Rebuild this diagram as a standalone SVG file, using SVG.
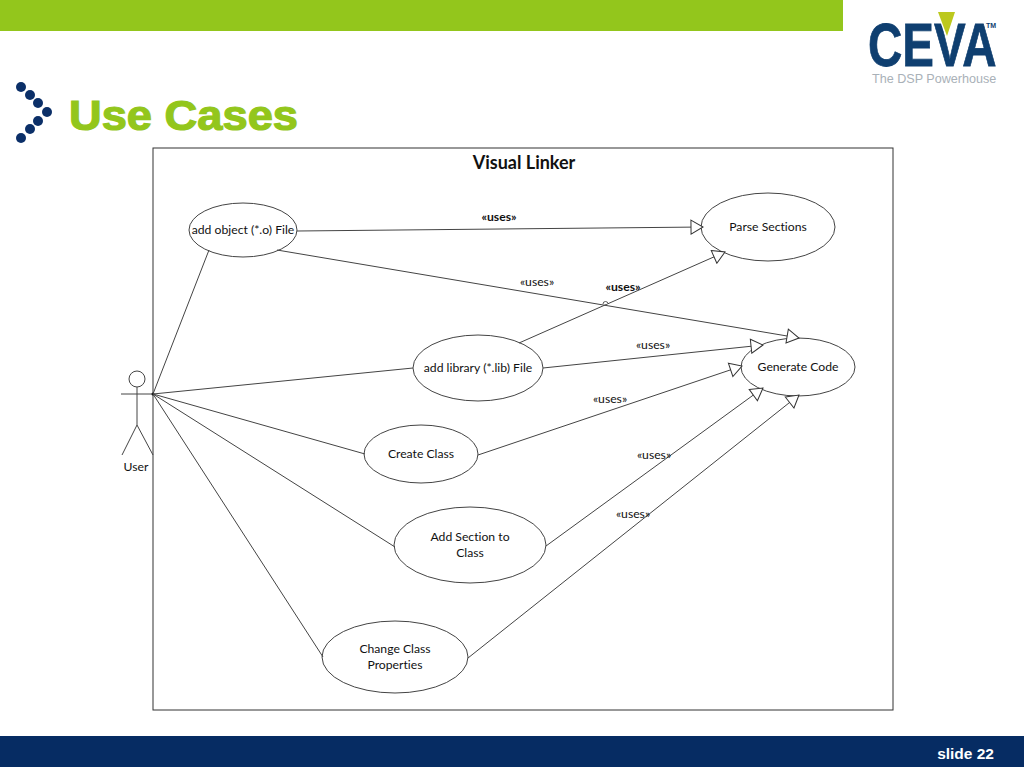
<svg xmlns="http://www.w3.org/2000/svg" width="1024" height="768" viewBox="0 0 1024 768">
<style>
.n{fill:#fff;stroke:#444;stroke-width:1}
.c{fill:none;stroke:#444;stroke-width:1}
.a{marker-end:url(#tri)}
.t{font-family:"Lato","Carlito","Liberation Sans",sans-serif;font-size:12.2px;fill:#111;text-anchor:middle;font-variant-ligatures:none}
.b{font-weight:700}
</style>
<defs>
<marker id="tri" markerUnits="userSpaceOnUse" markerWidth="16" markerHeight="16" refX="13" refY="8" orient="auto" viewBox="0 0 16 16">
<path d="M1 1 L13 8 L1 15 Z" fill="#fff" stroke="#333" stroke-width="1"/>
</marker>
</defs>
<rect width="1024" height="768" fill="#fff"/>
<g id="header">
<rect x="0" y="0" width="843" height="31" fill="#93c61c"/>
<rect x="0" y="736" width="1024" height="31" fill="#062c63"/>
<text x="994" y="759" text-anchor="end" font-family="Liberation Sans,sans-serif" font-size="15.5" font-weight="700" fill="#fff">slide 22</text>
</g>
<g id="logo">
<text transform="translate(868 66) scale(1 1.29)" font-family="Liberation Sans,sans-serif" font-size="47.5" font-weight="700" fill="#0f3f70" stroke="#0f3f70" stroke-width="0.6">CEVA</text>
<polygon points="936,10 957,10 947,40" fill="#fff"/>
<polygon points="938,12 955,12 947,36" fill="#bcc81e"/>
<text x="986" y="28" font-family="Liberation Sans,sans-serif" font-size="7" font-weight="700" fill="#0f3f70">TM</text>
<text x="872" y="83" font-family="Liberation Sans,sans-serif" font-size="12.6" fill="#a9b1b8">The DSP Powerhouse</text>
</g>
<g id="title">
<g fill="#0b2f68">
<circle cx="21" cy="87" r="5"/><circle cx="30" cy="95" r="5"/><circle cx="38" cy="103" r="5"/><circle cx="47" cy="112" r="5"/><circle cx="38" cy="121" r="5"/><circle cx="30" cy="129" r="5"/><circle cx="21" cy="138" r="5"/>
</g>
<text x="69" y="130" font-family="Liberation Sans,sans-serif" font-size="42" font-weight="700" fill="#93c61c" stroke="#93c61c" stroke-width="1.2" textLength="229" lengthAdjust="spacingAndGlyphs">Use Cases</text>
</g>
<g id="boundary">
<rect x="153" y="148" width="740" height="562" fill="none" stroke="#333" stroke-width="1"/>
<text class="t b" x="524" y="169" style="font-size:18px">Visual Linker</text>
</g>
<g id="actor-user">
<circle class="n" cx="137" cy="379" r="8"/>
<path class="c" d="M137 387V425M121 394H153M137 425L122 455M137 425L153 455"/>
<circle cx="153" cy="394" r="1.5" fill="#111"/>
<text class="t" x="136" y="471">User</text>
</g>
<g id="uc-add-object"><ellipse class="n" cx="243" cy="230" rx="54" ry="27"/><text class="t" x="243" y="234">add object (*.o) File</text></g>
<g id="uc-parse"><ellipse class="n" cx="768" cy="227" rx="67" ry="34"/><text class="t" x="768" y="231">Parse Sections</text></g>
<g id="uc-generate"><ellipse class="n" cx="798" cy="367" rx="57" ry="29"/><text class="t" x="798" y="371">Generate Code</text></g>
<g id="uc-library"><ellipse class="n" cx="478" cy="368" rx="65" ry="33"/><text class="t" x="478" y="372">add library (*.lib) File</text></g>
<g id="uc-create"><ellipse class="n" cx="421" cy="454" rx="57" ry="29"/><text class="t" x="421" y="458">Create Class</text></g>
<g id="uc-section"><ellipse class="n" cx="470" cy="545" rx="76" ry="38"/><text class="t" x="470" y="541">Add Section to</text><text class="t" x="470" y="557">Class</text></g>
<g id="uc-change"><ellipse class="n" cx="395" cy="657" rx="73" ry="36"/><text class="t" x="395" y="653">Change Class</text><text class="t" x="395" y="669">Properties</text></g>
<g id="connectors">
<line class="c" x1="153" y1="394" x2="209" y2="250"/>
<line class="c" x1="153" y1="394" x2="413" y2="368"/>
<line class="c" x1="153" y1="394" x2="365" y2="454"/>
<line class="c" x1="153" y1="394" x2="395" y2="547"/>
<line class="c" x1="153" y1="394" x2="323" y2="657"/>
<line class="c a" x1="297" y1="231" x2="703" y2="227"/>
<line class="c a" x1="277" y1="250" x2="799" y2="338"/>
<line class="c a" x1="519" y1="343" x2="725" y2="252"/>
<line class="c a" x1="543" y1="368" x2="763" y2="345"/>
<line class="c a" x1="478" y1="455" x2="742" y2="366"/>
<line class="c a" x1="546" y1="546" x2="763" y2="388"/>
<line class="c a" x1="468" y1="658" x2="799" y2="395"/>
<path d="M603 304 a2.5 2.5 0 0 1 5 0" fill="#fff" stroke="#333" stroke-width="0.8"/>
</g>
<g id="labels">
<text class="t b" x="499" y="221">«uses»</text>
<text class="t" x="537" y="286">«uses»</text>
<text class="t b" x="623" y="291">«uses»</text>
<text class="t" x="653" y="349">«uses»</text>
<text class="t" x="610" y="403">«uses»</text>
<text class="t" x="654" y="459">«uses»</text>
<text class="t" x="633" y="518">«uses»</text>
</g>
</svg>
